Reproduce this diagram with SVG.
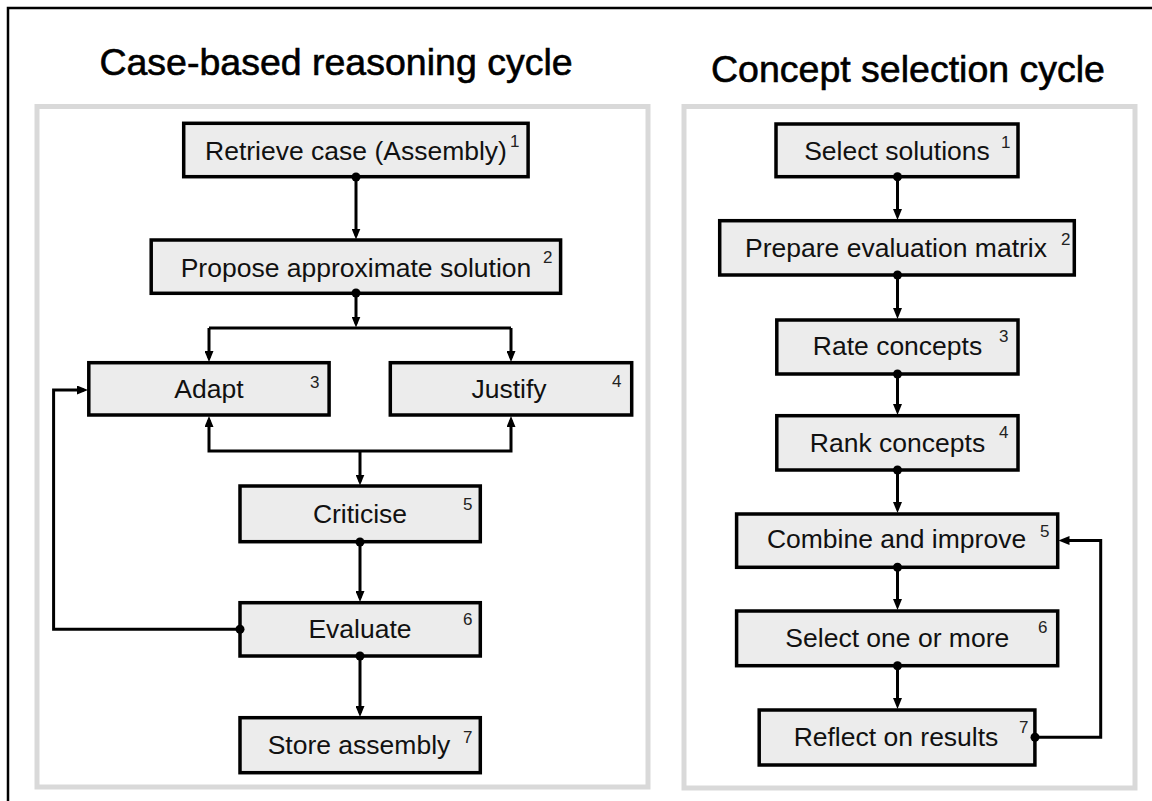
<svg xmlns="http://www.w3.org/2000/svg" width="1152" height="801" viewBox="0 0 1152 801">
<style>
.frame{fill:#ffffff;stroke:#d9d9d9;stroke-width:5}
.box{fill:#ececec;stroke:#000;stroke-width:3.5}
.lbl{font-family:"Liberation Sans",Arial,sans-serif;font-size:26.5px;fill:#111;text-anchor:middle}
.sup{font-family:"Liberation Sans",Arial,sans-serif;font-size:17px;fill:#222}
.title{font-family:"Liberation Sans",Arial,sans-serif;font-size:37.5px;fill:#000;stroke:#000;stroke-width:0.6;text-anchor:middle}
.con{fill:none;stroke:#000;stroke-width:3}
.arr{marker-end:url(#ah)}
.dot{fill:#000}
</style>
<defs>
<marker id="ah" viewBox="0 0 11 9" refX="7" refY="4.5" markerWidth="11" markerHeight="9" markerUnits="userSpaceOnUse" orient="auto">
<path d="M0,0 L11,4.5 L0,9 z" fill="#000"/>
</marker>
</defs>
<rect x="0" y="0" width="1152" height="801" fill="#ffffff"/>
<rect x="8" y="8" width="1160" height="810" fill="none" stroke="#000" stroke-width="2.5"/>
<text class="title" x="336" y="75">Case-based reasoning cycle</text>
<text class="title" x="908" y="82">Concept selection cycle</text>
<rect class="frame" x="37" y="106.5" width="611" height="680.5"/>
<rect class="frame" x="684" y="106.5" width="451" height="681.5"/>

<g id="retrieve">
<rect class="box" x="183.7" y="123.3" width="344.4" height="53.4"/>
<text class="lbl" x="356" y="160">Retrieve case (Assembly)</text>
<text class="sup" x="510" y="147">1</text>
</g>
<g id="propose">
<rect class="box" x="151.2" y="240" width="409.4" height="53.3"/>
<text class="lbl" x="356" y="276.7">Propose approximate solution</text>
<text class="sup" x="543" y="263">2</text>
</g>
<g id="adapt">
<rect class="box" x="88.8" y="362.7" width="240.3" height="52.3"/>
<text class="lbl" x="209" y="398.3">Adapt</text>
<text class="sup" x="310" y="388">3</text>
</g>
<g id="justify">
<rect class="box" x="390.3" y="362.7" width="241.4" height="52.3"/>
<text class="lbl" x="509" y="398.3">Justify</text>
<text class="sup" x="612" y="387">4</text>
</g>
<g id="criticise">
<rect class="box" x="240" y="486" width="240.3" height="55.7"/>
<text class="lbl" x="360" y="522.7">Criticise</text>
<text class="sup" x="463" y="510">5</text>
</g>
<g id="evaluate">
<rect class="box" x="240" y="602.7" width="240.3" height="53.3"/>
<text class="lbl" x="360" y="638.3">Evaluate</text>
<text class="sup" x="463" y="625">6</text>
</g>
<g id="store">
<rect class="box" x="240" y="717.7" width="240.3" height="55"/>
<text class="lbl" x="359" y="754.3">Store assembly</text>
<text class="sup" x="463" y="743">7</text>
</g>

<g id="select-solutions">
<rect class="box" x="776" y="124" width="242" height="52.7"/>
<text class="lbl" x="897" y="160">Select solutions</text>
<text class="sup" x="1001" y="148">1</text>
</g>
<g id="prepare">
<rect class="box" x="719.7" y="220.7" width="354.6" height="54.3"/>
<text class="lbl" x="896" y="256.7">Prepare evaluation matrix</text>
<text class="sup" x="1061" y="245">2</text>
</g>
<g id="rate">
<rect class="box" x="776.8" y="320" width="241.2" height="54"/>
<text class="lbl" x="897.5" y="355">Rate concepts</text>
<text class="sup" x="999" y="341.5">3</text>
</g>
<g id="rank">
<rect class="box" x="776.8" y="415.7" width="241.2" height="54.3"/>
<text class="lbl" x="897.5" y="451.7">Rank concepts</text>
<text class="sup" x="999" y="438">4</text>
</g>
<g id="combine">
<rect class="box" x="736.6" y="514" width="321.1" height="53.3"/>
<text class="lbl" x="896.5" y="548.3">Combine and improve</text>
<text class="sup" x="1040" y="536.5">5</text>
</g>
<g id="select-one">
<rect class="box" x="736.6" y="611" width="321.1" height="54.7"/>
<text class="lbl" x="897.3" y="646.7">Select one or more</text>
<text class="sup" x="1038" y="633">6</text>
</g>
<g id="reflect">
<rect class="box" x="759.2" y="710" width="275.7" height="55"/>
<text class="lbl" x="896" y="745.7">Reflect on results</text>
<text class="sup" x="1019" y="733">7</text>
</g>

<g id="connectors">
<path class="con arr" d="M356,177 V235.5"/>
<path class="con arr" d="M356,293 V323.5"/>
<path class="con" d="M209,328 H511"/>
<path class="con arr" d="M209,328 V358"/>
<path class="con arr" d="M511,328 V358"/>
<path class="con arr" d="M360,451 H209 V420"/>
<path class="con arr" d="M360,451 H511 V420"/>
<path class="con arr" d="M360,451 V481.5"/>
<path class="con arr" d="M360,542 V598"/>
<path class="con arr" d="M360,656 V713"/>
<path class="con arr" d="M240,629.3 H53.6 V390 H84"/>
<circle class="dot" cx="356" cy="177" r="4.5"/>
<circle class="dot" cx="356" cy="293" r="4.5"/>
<circle class="dot" cx="360" cy="542" r="4.5"/>
<circle class="dot" cx="360" cy="656" r="4.5"/>
<circle class="dot" cx="240" cy="629.3" r="4.5"/>

<path class="con arr" d="M897.5,176.7 V216"/>
<path class="con arr" d="M897.5,275 V315"/>
<path class="con arr" d="M897.5,374 V411"/>
<path class="con arr" d="M897.5,470 V509"/>
<path class="con arr" d="M897.5,567.3 V606"/>
<path class="con arr" d="M897.5,665.7 V705"/>
<path class="con arr" d="M1035,737.3 H1100.7 V540.5 H1062.5"/>
<circle class="dot" cx="897.5" cy="176.7" r="4.5"/>
<circle class="dot" cx="897.5" cy="275" r="4.5"/>
<circle class="dot" cx="897.5" cy="374" r="4.5"/>
<circle class="dot" cx="897.5" cy="470" r="4.5"/>
<circle class="dot" cx="897.5" cy="567.3" r="4.5"/>
<circle class="dot" cx="897.5" cy="665.7" r="4.5"/>
<circle class="dot" cx="1035" cy="737.3" r="4.5"/>
</g>
</svg>
